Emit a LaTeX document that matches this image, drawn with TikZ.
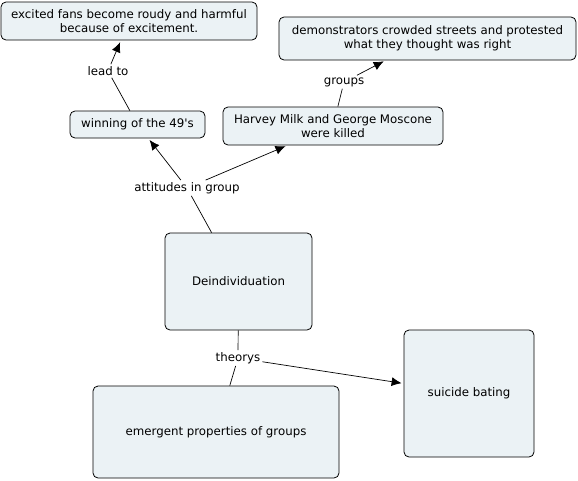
\documentclass[tikz,border=0pt]{standalone}
\usepackage{fontspec}
\setmainfont{DejaVu Sans}
\usetikzlibrary{arrows.meta}
\definecolor{boxfill}{RGB}{235,242,245}
\tikzset{
  concept/.style={draw,rectangle,rounded corners=5pt,fill=boxfill,line width=0.8pt,align=center,inner sep=0pt},
  linkword/.style={inner sep=2pt,fill=white},
  link/.style={line width=0.7pt},
  arrowlink/.style={line width=0.7pt,-{Latex[length=10pt,width=9pt]},shorten >=2pt}
}
\begin{document}
\begin{tikzpicture}[x=1pt,y=-1pt,font=\fontsize{11.8}{14}\selectfont]
  \useasboundingbox (0,0) rectangle (578,480);

  \node[concept,minimum width=256pt,minimum height=38pt] (fans) at (129,21) {excited fans become roudy and harmful\\because of excitement.};
  \node[concept,minimum width=297pt,minimum height=43pt] (demo) at (427.5,38.5) {demonstrators crowded streets and protested\\what they thought was right};
  \node[concept,minimum width=135pt,minimum height=27pt] (win) at (137.5,124.5) {winning of the 49\textquotesingle s};
  \node[concept,minimum width=220pt,minimum height=38pt] (milk) at (333,126) {Harvey Milk and George Moscone\\were killed};
  \node[concept,minimum width=147pt,minimum height=97pt] (deind) at (238.5,281.5) {Deindividuation};
  \node[concept,minimum width=246pt,minimum height=92pt] (emerg) at (216,432) {emergent properties of groups};
  \node[concept,minimum width=130pt,minimum height=127pt] (suic) at (469,393.5) {suicide bating};

  \node[linkword] (lead) at (108,71) {lead to};
  \node[linkword] (grp) at (344,82) {groups};
  \node[linkword] (att) at (187,188) {attitudes in group};
  \node[linkword] (theo) at (238,358) {theorys};

  \draw[link] (win) -- (lead);
  \draw[arrowlink] (lead) -- (fans);
  \draw[link] (milk) -- (grp);
  \draw[arrowlink] (grp) -- (demo);
  \draw[link] (deind) -- (att);
  \draw[arrowlink] (att) -- (win);
  \draw[arrowlink] (att) -- (milk);
  \draw[link] (deind) -- (theo);
  \draw[link] (theo) -- (emerg);
  \draw[arrowlink] (theo) -- (suic);
\end{tikzpicture}
\end{document}
